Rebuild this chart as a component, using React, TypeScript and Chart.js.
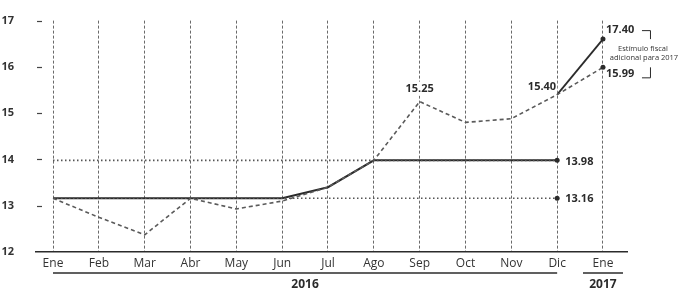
import React, { useEffect, useRef } from "react";
import { Chart, registerables } from "chart.js";

Chart.register(...registerables);

const months = ["Ene", "Feb", "Mar", "Abr", "May", "Jun", "Jul", "Ago", "Sep", "Oct", "Nov", "Dic", "Ene"];
const yTicks = [12, 13, 14, 15, 16, 17];
const solidMain = [13.16, 13.16, 13.16, 13.16, 13.16, 13.16, 13.4, 13.98, 13.98, 13.98, 13.98, 13.98, null];
const dashedSeries = [13.16, 12.75, 12.37, 13.16, 12.93, 13.1, 13.4, 13.98, 15.25, 14.8, 14.88, 15.4, 15.99];
const projection = [null, null, null, null, null, null, null, null, null, null, null, 15.4, 16.6];
const dotted1398 = [13.98, 13.98, 13.98, 13.98, 13.98, 13.98, 13.98, 13.98, 13.98, 13.98, 13.98, 13.98, null];
const dotted1316 = [13.16, 13.16, 13.16, 13.16, 13.16, 13.16, 13.16, 13.16, 13.16, 13.16, 13.16, 13.16, null];
const years = [
  { label: "2016", from: 0, to: 11 },
  { label: "2017", from: 12, to: 12 },
];
const noteLines = ["Estímulo fiscal", "adicional para 2017"];

const FONT = "'Open Sans', 'DejaVu Sans', sans-serif";
const DARK = "#2b2b2b";
const MID = "#555";

function toPoints(arr: (number | null)[]) {
  return arr.map((v, i) => ({ x: i, y: v }));
}

export default function App() {
  const ref = useRef<HTMLCanvasElement | null>(null);

  useEffect(() => {
    document.body.style.margin = "0";
    const canvas = ref.current!;
    const overlay = {
      id: "overlay",
      afterDraw(chart: any) {
        const { ctx, chartArea } = chart;
        const xs = chart.scales.x;
        const ys = chart.scales.y;
        const px = (v: number) => xs.getPixelForValue(v);
        const py = (v: number) => ys.getPixelForValue(v);
        ctx.save();
        // y tick dashes
        ctx.strokeStyle = "#444";
        ctx.lineWidth = 1.2;
        yTicks.forEach((t) => {
          if (t === 12) return;
          const y = Math.round(py(t)) + 0.5;
          ctx.beginPath();
          ctx.moveTo(chartArea.left + 1, y);
          ctx.lineTo(chartArea.left + 6, y);
          ctx.stroke();
        });
        // year underlines and labels
        ctx.lineWidth = 1.5;
        ctx.strokeStyle = DARK;
        ctx.fillStyle = DARK;
        ctx.font = `bold 12px ${FONT}`;
        ctx.textAlign = "center";
        ctx.textBaseline = "middle";
        years.forEach((yr) => {
          let x1 = px(yr.from);
          let x2 = px(yr.to);
          if (yr.from === yr.to) {
            x1 -= 20;
            x2 += 20;
          }
          const ly = chartArea.bottom + 21;
          ctx.beginPath();
          ctx.moveTo(x1, ly);
          ctx.lineTo(x2, ly);
          ctx.stroke();
          ctx.fillText(yr.label, (px(yr.from) + px(yr.to)) / 2, chartArea.bottom + 33);
        });
        // value labels
        ctx.font = `bold 11px ${FONT}`;
        const label = (t: string, x: number, y: number, align: CanvasTextAlign, bg = false) => {
          ctx.textAlign = align;
          if (bg) {
            const w = ctx.measureText(t).width;
            const lx = align === "center" ? x - w / 2 : align === "right" ? x - w : x;
            ctx.fillStyle = "#fff";
            ctx.fillRect(lx - 1, y - 7, w + 2, 14);
          }
          ctx.fillStyle = DARK;
          ctx.fillText(t, x, y);
        };
        label("15.25", px(8), py(15.25) - 13, "center", true);
        label("15.40", px(11) - 1, py(15.4) - 8, "right", true);
        label("13.98", px(11) + 8, py(13.98) + 1, "left");
        label("13.16", px(11) + 8, py(13.16) + 1, "left");
        label("17.40", px(12) + 3, py(16.6) - 9, "left");
        label("15.99", px(12) + 3, py(15.99) + 7, "left");
        // brackets
        ctx.strokeStyle = DARK;
        ctx.lineWidth = 1;
        const bx = px(12) + 47;
        const tY = py(16.6) - 9;
        const bY = py(15.99) + 10;
        ctx.beginPath();
        ctx.moveTo(bx - 8, tY + 0.5);
        ctx.lineTo(bx + 0.5, tY + 0.5);
        ctx.lineTo(bx + 0.5, tY + 9);
        ctx.stroke();
        ctx.beginPath();
        ctx.moveTo(bx + 0.5, bY - 10);
        ctx.lineTo(bx + 0.5, bY + 0.5);
        ctx.lineTo(bx - 8, bY + 0.5);
        ctx.stroke();
        // note
        ctx.font = `7.5px ${FONT}`;
        ctx.fillStyle = "#333";
        ctx.textAlign = "center";
        ctx.fillText(noteLines[0], px(12) + 40, tY + 19);
        ctx.fillText(noteLines[1], px(12) + 41, tY + 28);
        ctx.restore();
      },
    };

    const dotAt = (idx: number[]) => (c: any) => (idx.includes(c.dataIndex) ? 2.5 : 0);

    const chart = new Chart(canvas, {
      type: "line",
      data: {
        datasets: [
          {
            label: "dotted 13.98",
            data: toPoints(dotted1398),
            borderColor: MID,
            borderWidth: 1.6,
            borderDash: [1.5, 2.5],
            pointRadius: dotAt([11]),
            pointBackgroundColor: DARK,
            pointBorderWidth: 0,
          },
          {
            label: "dotted 13.16",
            data: toPoints(dotted1316),
            borderColor: MID,
            borderWidth: 1.6,
            borderDash: [1.5, 2.5],
            pointRadius: dotAt([11]),
            pointBackgroundColor: DARK,
            pointBorderWidth: 0,
          },
          {
            label: "dashed",
            data: toPoints(dashedSeries),
            borderColor: "#5a5a5a",
            borderWidth: 1.6,
            borderDash: [4, 3],
            pointRadius: dotAt([12]),
            pointBackgroundColor: DARK,
            pointBorderWidth: 0,
          },
          {
            label: "solid",
            data: toPoints(solidMain),
            borderColor: DARK,
            borderWidth: 2,
            pointRadius: 0,
          },
          {
            label: "projection",
            data: toPoints(projection),
            borderColor: DARK,
            borderWidth: 1.8,
            pointRadius: dotAt([12]),
            pointBackgroundColor: DARK,
            pointBorderWidth: 0,
          },
        ],
      },
      options: {
        animation: false,
        responsive: false,
        maintainAspectRatio: false,
        events: [],
        layout: { padding: { top: 19, right: 65, left: 0, bottom: 0 } },
        plugins: { legend: { display: false }, tooltip: { enabled: false } },
        scales: {
          x: {
            type: "linear",
            min: -0.371,
            max: 12.524,
            afterBuildTicks: (scale: any) => {
              scale.ticks = months.map((_, i) => ({ value: i }));
            },
            afterFit: (scale: any) => {
              scale.height = 38;
            },
            ticks: {
              autoSkip: false,
              maxRotation: 0,
              padding: 4,
              color: "#333",
              font: { family: FONT, size: 12 },
              callback: (v: any) => months[Number(v)] ?? "",
            },
            grid: { color: "#6a6a6a", lineWidth: 1, drawTicks: false },
            border: { display: true, color: DARK, width: 1.6, dash: [3, 2] },
          },
          y: {
            type: "linear",
            min: 12,
            max: 17,
            afterBuildTicks: (scale: any) => {
              scale.ticks = yTicks.map((v) => ({ value: v }));
            },
            afterFit: (scale: any) => {
              scale.width = 36;
            },
            ticks: {
              padding: 14,
              color: "#333",
              font: { family: FONT, size: 11, weight: "bold" },
            },
            grid: { display: false },
            border: { display: false },
          },
        },
      },
      plugins: [overlay],
    } as any);
    return () => chart.destroy();
  }, []);

  return <canvas ref={ref} width={692} height={290} style={{ display: "block" }} />;
}
